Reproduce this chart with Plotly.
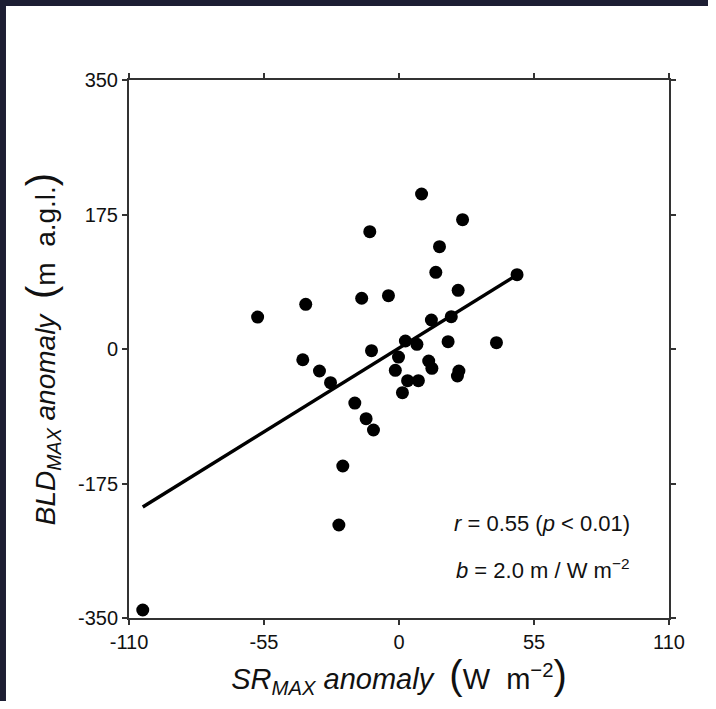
import plotly.graph_objects as go

# Data (SR_MAX anomaly vs BLD_MAX anomaly)
sr_anom = [-104.4, -57.6, -38.0, -39.2, -32.4, -27.9, -24.5, -22.9, -18.0, -15.2,
           -13.4, -11.9, -11.2, -10.4, -4.3, -1.5, -0.2, 1.4, 2.6, 3.5,
           7.3, 7.9, 9.2, 12.1, 13.2, 13.4, 15.0, 16.5, 20.0, 21.3,
           24.1, 24.4, 23.8, 25.9, 39.7, 48.1]
bld_anom = [-339.6, 41.6, 58.1, -14.0, -28.6, -43.8, -229.0, -152.2, -70.3, 66.0,
            -90.7, 152.6, -2.2, -105.4, 69.4, -27.7, -10.5, -56.8, 10.4, -41.2,
            6.1, -41.2, 201.7, -15.6, 37.7, -25.2, 99.8, 133.1, 9.5, 42.0,
            76.3, -28.6, -35.1, 168.3, 8.2, 96.7]

fit_slope = 1.98
fit_intercept = 1.2

x_ticks = [-110, -55, 0, 55, 110]
y_ticks = [-350, -175, 0, 175, 350]

line_x = [min(sr_anom), max(sr_anom)]
line_y = [fit_intercept + fit_slope * v for v in line_x]

FONT = "Liberation Sans, Arial, sans-serif"
AX = "#333333"
TXT = "#111111"
DARK = "#1d1e33"

fig = go.Figure()
fig.add_trace(go.Scatter(x=line_x, y=line_y, mode="lines",
                         line=dict(color="black", width=3.5), hoverinfo="skip"))
fig.add_trace(go.Scatter(x=sr_anom, y=bld_anom, mode="markers",
                         marker=dict(color="black", size=13, line=dict(width=0))))

axis_common = dict(showgrid=False, zeroline=False, showline=True, linecolor=AX,
                   linewidth=2, mirror="ticks", ticks="outside", ticklen=5,
                   tickwidth=1.5, tickcolor=AX,
                   tickfont=dict(family=FONT, size=20, color=TXT))

P = "<span style='font-size:40px'>%s</span>"
SUB = "<sub><i>MAX</i></sub>"

fig.update_xaxes(range=[-110, 110], tickvals=x_ticks, ticktext=[str(v) for v in x_ticks],
                 title=dict(text="<i>SR</i>" + SUB + " <i>anomaly</i>  " + P % "(" +
                            "W  m<sup>\u22122</sup>" + P % ")",
                            font=dict(family=FONT, size=29, color=TXT), standoff=17),
                 **axis_common)
fig.update_yaxes(range=[-350, 350], tickvals=y_ticks, ticktext=[str(v) for v in y_ticks],
                 title=dict(text="<i>BLD</i>" + SUB + " <i>anomaly</i>  " + P % "(" +
                            "m  a.g.l." + P % ")",
                            font=dict(family=FONT, size=28, color=TXT), standoff=14),
                 **axis_common)

fig.add_annotation(x=0.765, y=0.176, xref="paper", yref="paper", xanchor="center",
                   yanchor="middle", showarrow=False,
                   text="<i>r</i> = 0.55 (<i>p</i> &lt; 0.01)",
                   font=dict(family=FONT, size=22, color=TXT))
fig.add_annotation(x=0.765, y=0.092, xref="paper", yref="paper", xanchor="center",
                   yanchor="middle", showarrow=False,
                   text="<i>b</i> = 2.0 m / W m<sup>\u22122</sup>",
                   font=dict(family=FONT, size=22, color=TXT))

# dark page border on the left and top edges
fig.add_shape(type="rect", xref="paper", yref="paper", x0=-0.3, x1=-0.2278, y0=-0.5, y1=1.5,
              fillcolor=DARK, line=dict(width=0), layer="above")
fig.add_shape(type="rect", xref="paper", yref="paper", x0=-0.5, x1=1.5, y0=1.1375, y1=1.3,
              fillcolor=DARK, line=dict(width=0), layer="above")

fig.update_layout(width=708, height=701, showlegend=False,
                  paper_bgcolor="white", plot_bgcolor="white",
                  margin=dict(l=129, r=39, t=80, b=83))

fig.write_html("out.html",
               config={"displayModeBar": False},
               post_script="document.body.style.margin='0';")
